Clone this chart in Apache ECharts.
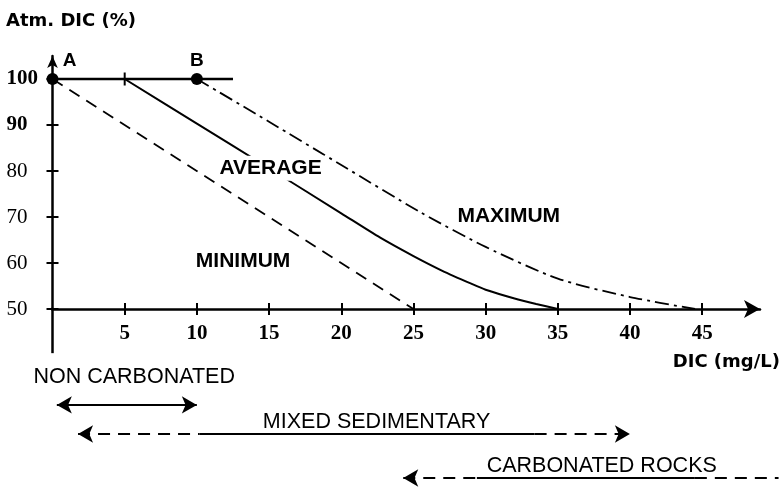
<!DOCTYPE html>
<html>
<head>
<meta charset="utf-8">
<script src="https://cdn.jsdelivr.net/npm/echarts@6/dist/echarts.min.js"></script>
<style>html,body{margin:0;padding:0;background:#fff}#c{width:781px;height:487px}</style>
</head>
<body>
<div id="c"></div>
<script>
// ---------- data ----------
const xTicks = [5, 10, 15, 20, 25, 30, 35, 40, 45];
const yTicks = [50, 60, 70, 80, 90, 100];
const minimumCurve = [[0, 100], [25, 50]];
const averageCurve = [[5, 100], [10, 90.3], [15, 80.6], [20, 70.8], [22.7, 65.5], [25, 61.5], [27, 58.3], [29, 55.5], [30, 54.2], [32, 52.3], [33.5, 51.1], [35, 50]];
const maximumCurve = [[10, 100], [15, 90.7], [20, 81.3], [25.5, 71], [30, 63.5], [35, 56.6], [40, 52.6], [44.5, 50]];
const atmLine = [[0, 100], [12.5, 100]];
const atmTick = [[5, 100]];
const xAxisStub = [[-0.6, 50], [0, 50]];
const yAxisStub = [[0, 50], [0, 40.4]];
const endPoints = [{ name: 'A', value: [0, 100] }, { name: 'B', value: [10, 100] }];
const curveNames = [
  { name: 'AVERAGE', value: [15.1, 80.6] },
  { name: 'MAXIMUM', value: [31.6, 70.2] },
  { name: 'MINIMUM', value: [13.2, 60.4] }
];
const rockNames = [
  { name: 'NON CARBONATED', value: [5.66, 8.66] },
  { name: 'MIXED SEDIMENTARY', value: [22.45, 5.12] },
  { name: 'CARBONATED ROCKS', value: [38.05, 1.61] }
];
const rangeLevels = [6.46, 4.17, 0.71];
const nonCarbonatedRange = [0.3, 10.0];            // solid, arrows both ends
const mixedRange = [1.77, 10.2, 33.4, 40.0];        // dashed | solid | dashed
const carbonatedRange = [24.3, 29.4, 44.5, 50.3];   // dashed | solid | dashed

// ---------- chart ----------
const BLACK = '#000';
const DASH = [12, 8];
function seg(x1, x2, y, dashed, s1, s2) {
  return [
    { coord: [x1, y], symbol: s1, lineStyle: { type: dashed ? DASH : 'solid' } },
    { coord: [x2, y], symbol: s2 }
  ];
}
const rangeLines = [
  seg(nonCarbonatedRange[0], nonCarbonatedRange[1], rangeLevels[0], false, 'arrow', 'arrow'),
  seg(mixedRange[0], mixedRange[1], rangeLevels[1], true, 'arrow', 'none'),
  seg(mixedRange[1], mixedRange[2], rangeLevels[1], false, 'none', 'none'),
  seg(mixedRange[2], mixedRange[3], rangeLevels[1], true, 'none', 'arrow'),
  seg(carbonatedRange[0], carbonatedRange[1], rangeLevels[2], true, 'arrow', 'none'),
  seg(carbonatedRange[1], carbonatedRange[2], rangeLevels[2], false, 'none', 'none'),
  seg(carbonatedRange[2], carbonatedRange[3], rangeLevels[2], true, 'none', 'none')
];

const tickStyle = { color: BLACK, width: 2 };
const serif = 'Liberation Serif';
const sans = 'Liberation Sans';

const option = {
  animation: false,
  backgroundColor: '#fff',
  title: [
    { text: 'Atm. DIC (%)', left: 6, top: 12, padding: 0,
      textStyle: { fontFamily: 'DejaVu Sans', fontWeight: 'bold', fontSize: 18, color: BLACK } },
    { text: 'DIC (mg/L)', right: 1, top: 353, padding: 0,
      textStyle: { fontFamily: 'DejaVu Sans', fontWeight: 'bold', fontSize: 18, color: BLACK } }
  ],
  grid: [
    { left: 52.5, right: 21, top: 56, bottom: 178 },
    { left: 52.5, right: 1, top: 360, bottom: 0 }
  ],
  xAxis: [
    { gridIndex: 0, type: 'value', min: 0, max: 49, position: 'bottom',
      axisLine: { show: true, symbol: ['none', 'arrow'], symbolSize: [13.5, 16], lineStyle: { color: BLACK, width: 2.5 } },
      axisTick: { show: true, customValues: xTicks, length: 6, lineStyle: tickStyle },
      axisLabel: { customValues: xTicks, margin: 14, color: BLACK, fontFamily: serif, fontWeight: 'bold', fontSize: 21 },
      splitLine: { show: false } },
    { gridIndex: 0, type: 'value', min: 0, max: 49, position: 'bottom',
      axisLine: { show: false },
      axisTick: { show: true, inside: true, customValues: xTicks, length: 6, lineStyle: tickStyle },
      axisLabel: { show: false }, splitLine: { show: false } },
    { gridIndex: 1, type: 'value', min: 0, max: 50.4, show: false }
  ],
  yAxis: [
    { gridIndex: 0, type: 'value', min: 50, max: 105, position: 'left',
      axisLine: { show: true, symbol: ['none', 'arrow'], symbolSize: [8, 12], lineStyle: { color: BLACK, width: 2.5 } },
      axisTick: { show: true, customValues: yTicks, length: 6, lineStyle: tickStyle },
      axisLabel: { customValues: yTicks, margin: 46, align: 'left', color: BLACK,
        formatter: v => (v >= 90 ? '{b|' + v + '}' : '{n|' + v + '}'),
        rich: {
          b: { fontFamily: serif, fontWeight: 'bold', fontSize: 21, color: BLACK },
          n: { fontFamily: serif, fontSize: 21, color: BLACK }
        } },
      splitLine: { show: false } },
    { gridIndex: 0, type: 'value', min: 50, max: 105, position: 'left',
      axisLine: { show: false },
      axisTick: { show: true, inside: true, customValues: yTicks, length: 6, lineStyle: tickStyle },
      axisLabel: { show: false }, splitLine: { show: false } },
    { gridIndex: 1, type: 'value', min: 0, max: 10, show: false }
  ],
  series: [
    { type: 'line', data: xAxisStub, symbol: 'none', clip: false, silent: true,
      lineStyle: { color: BLACK, width: 2.5 } },
    { type: 'line', data: yAxisStub, symbol: 'none', clip: false, silent: true,
      lineStyle: { color: BLACK, width: 2.5 } },
    { type: 'line', data: atmLine, symbol: 'none', silent: true,
      lineStyle: { color: BLACK, width: 2.5 } },
    { type: 'line', name: 'MINIMUM', data: minimumCurve, symbol: 'none', silent: true,
      lineStyle: { color: BLACK, width: 1.8, type: DASH } },
    { type: 'line', name: 'AVERAGE', data: averageCurve, symbol: 'none', silent: true,
      smooth: 0.25,
      lineStyle: { color: BLACK, width: 2 } },
    { type: 'line', name: 'MAXIMUM', data: maximumCurve, symbol: 'none', silent: true,
      smooth: 0.25,
      lineStyle: { color: BLACK, width: 1.8, type: [14, 5, 3, 5] } },
    { type: 'scatter', data: atmTick, symbol: 'rect', symbolSize: [2, 13], silent: true,
      itemStyle: { color: BLACK, opacity: 1 } },
    { type: 'scatter', data: endPoints, symbol: 'circle', symbolSize: 12, silent: true, z: 5,
      itemStyle: { color: BLACK, opacity: 1 },
      label: { show: true, position: 'top', distance: 3, formatter: '{b}',
        fontFamily: sans, fontWeight: 'bold', fontSize: 19, color: BLACK, opacity: 1 } },
    { type: 'scatter', data: curveNames, symbolSize: 0, silent: true, z: 10,
      itemStyle: { opacity: 1 },
      label: { show: true, position: 'inside', formatter: '{b}',
        backgroundColor: '#fff', padding: [2, 3],
        fontFamily: sans, fontWeight: 'bold', fontSize: 21, color: BLACK, opacity: 1 } },
    { type: 'scatter', xAxisIndex: 2, yAxisIndex: 2, data: rockNames, symbolSize: 0, silent: true,
      itemStyle: { opacity: 1 },
      label: { show: true, position: 'inside', formatter: '{b}',
        fontFamily: sans, fontSize: 21.5, color: BLACK, opacity: 1 } },
    { type: 'line', xAxisIndex: 2, yAxisIndex: 2, data: [], silent: true,
      markLine: { silent: true, animation: false, symbolSize: [13, 15], precision: 2,
        label: { show: false }, emphasis: { disabled: true },
        lineStyle: { color: BLACK, width: 2, type: 'solid' },
        data: rangeLines } }
  ]
};
// offset label for point A
option.series[7].data[0].label = { offset: [17, 0] };
const chart = echarts.init(document.getElementById('c'));
chart.setOption(option);
</script>
</body>
</html>
